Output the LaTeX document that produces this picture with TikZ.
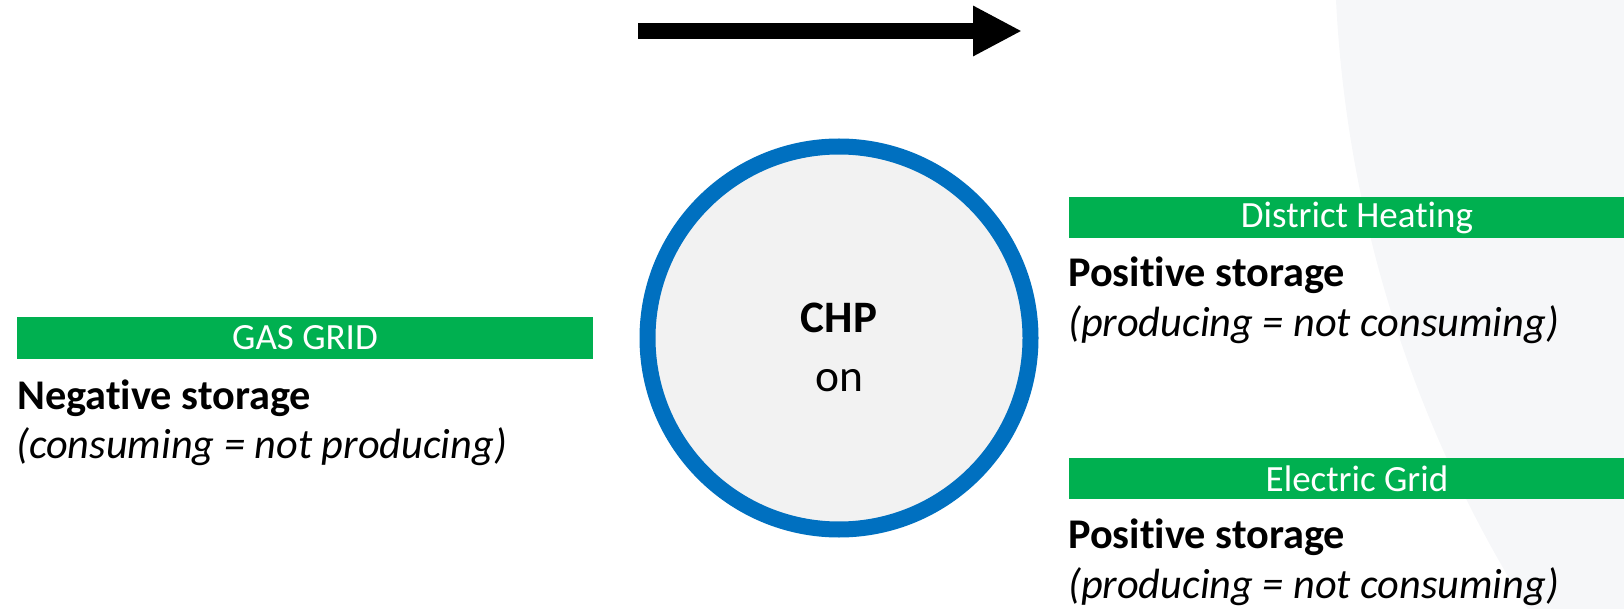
\documentclass[tikz,border=0pt]{standalone}
\usepackage{fontspec}
\setmainfont[Ligatures=NoCommon]{Carlito}
\usetikzlibrary{arrows.meta}
\definecolor{chpblue}{HTML}{0070C0}
\definecolor{gridgreen}{HTML}{00B050}
\definecolor{discfill}{HTML}{F2F2F2}
\definecolor{backdrop}{HTML}{F6F7F9}

\begin{document}
\begin{tikzpicture}[x=1pt,y=-1pt,
  bar/.style={fill=gridgreen, minimum width=576pt, minimum height=41.5pt,
    inner sep=0pt, text=white, font=\fontsize{37}{42}\selectfont},
  heading/.style={anchor=base west, inner sep=0pt,
    font=\fontsize{42.3}{50}\selectfont\bfseries},
  note/.style={anchor=base west, inner sep=0pt,
    font=\fontsize{42.3}{50}\selectfont\itshape},
  disclabel/.style={anchor=base, inner sep=0pt},
]
\useasboundingbox (0,0) rectangle (1624,609);
\clip (0,0) rectangle (1624,609);

% pale backdrop arc on the right
\fill[backdrop] (2600.8,-64) circle (1266.4pt);

% flow direction arrow
\coordinate (flowtail) at (638,31);
\coordinate (flowhead) at (1022,31);
\draw[line width=16pt, -{Triangle[length=49pt,width=47pt]}] (flowtail) -- (flowhead);

% central CHP unit
\node[circle, draw=chpblue, line width=16pt, fill=discfill,
      minimum size=383pt, inner sep=0pt] (chp) at (839,338) {};
\node[disclabel, font=\fontsize{45}{50}\selectfont\bfseries] (chpname) at (839,333) {CHP};
\node[disclabel, font=\fontsize{45.5}{50}\selectfont] (chpstate) at (839,391) {on};

% gas grid side
\node[bar] (gas) at (305,338) {GAS GRID};
\node[heading] (gashead) at (17,409) {Negative storage};
\node[note] (gasnote) at (16,458) {(consuming = not producing)};

% district heating side
\node[bar] (heat) at (1357,217.5) {District Heating};
\node[heading] (heathead) at (1068,287) {Positive storage};
\node[note] (heatnote) at (1068,337) {(producing = not consuming)};

% electric grid side
\node[bar] (elec) at (1357,478.5) {Electric Grid};
\node[heading] (elechead) at (1068,548) {Positive storage};
\node[note] (elecnote) at (1068,598) {(producing = not consuming)};
\end{tikzpicture}
\end{document}
